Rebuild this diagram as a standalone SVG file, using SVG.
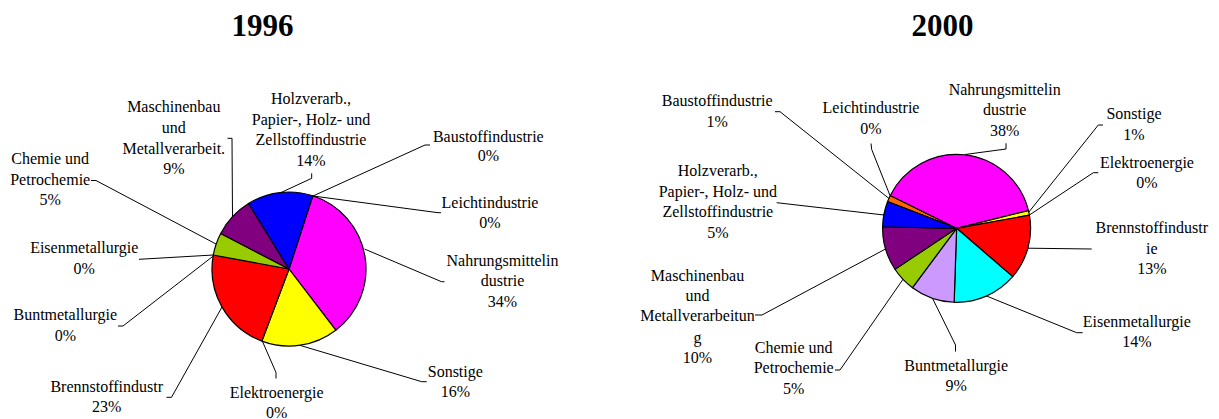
<svg xmlns="http://www.w3.org/2000/svg" width="1219" height="419" viewBox="0 0 1219 419">
<style>
text{font-family:"Liberation Serif","Times New Roman",serif;font-size:16px;fill:#000;text-anchor:middle}
.title{font-size:31px;font-weight:bold}
.s{stroke:#000;stroke-width:1.2;stroke-linejoin:round}
.ld{fill:none;stroke:#000;stroke-width:1}
</style>
<rect width="1219" height="419" fill="#fff"/>
<text class="title" x="262.5" y="36">1996</text>
<text class="title" x="942.5" y="36">2000</text>

<g id="pie1996">
<path class="s" fill="#FF00FF" d="M289,269 L312.79,195.77 A77,77 0 0 1 335.77,330.17 Z"/>
<path class="s" fill="#FFFF00" d="M289,269 L335.77,330.17 A77,77 0 0 1 261.91,341.08 Z"/>
<path class="s" fill="#FF0000" d="M289,269 L261.91,341.08 A77,77 0 0 1 213.29,254.97 Z"/>
<path class="s" fill="#99CC00" d="M289,269 L213.29,254.97 A77,77 0 0 1 220.70,233.45 Z"/>
<path class="s" fill="#800080" d="M289,269 L220.70,233.45 A77,77 0 0 1 248.54,203.49 Z"/>
<path class="s" fill="#0000FF" d="M289,269 L248.54,203.49 A77,77 0 0 1 312.79,195.77 Z"/>
</g>

<g id="pie2000">
<path class="s" fill="#FF6600" d="M956.6,228.3 L887.61,201.54 A74,74 0 0 1 890.26,195.51 Z"/>
<path class="s" fill="#FF00FF" d="M956.6,228.3 L890.26,195.51 A74,74 0 0 1 1028.46,210.65 Z"/>
<path class="s" fill="#FFFF00" d="M956.6,228.3 L1028.46,210.65 A74,74 0 0 1 1029.43,215.19 Z"/>
<path class="s" fill="#FF0000" d="M956.6,228.3 L1029.43,215.19 A74,74 0 0 1 1012.62,276.65 Z"/>
<path class="s" fill="#00FFFF" d="M956.6,228.3 L1012.62,276.65 A74,74 0 0 1 954.15,302.26 Z"/>
<path class="s" fill="#CC99FF" d="M956.6,228.3 L954.15,302.26 A74,74 0 0 1 912.48,287.71 Z"/>
<path class="s" fill="#99CC00" d="M956.6,228.3 L912.48,287.71 A74,74 0 0 1 894.97,269.25 Z"/>
<path class="s" fill="#800080" d="M956.6,228.3 L894.97,269.25 A74,74 0 0 1 882.62,226.75 Z"/>
<path class="s" fill="#0000FF" d="M956.6,228.3 L882.62,226.75 A74,74 0 0 1 887.61,201.54 Z"/>
</g>

<g id="connectors">
<!-- 1996 -->
<polyline class="ld" points="91,180.5 96,180.5 216,244"/>
<polyline class="ld" points="139,259.3 213.3,255"/>
<polyline class="ld" points="118,326 123,326 213.3,256"/>
<polyline class="ld" points="166.5,397.3 171.5,397.3 222,307"/>
<polyline class="ld" points="262.5,341.5 276,372.5 276,378.5"/>
<polyline class="ld" points="227.5,138.3 232,138.3 232.5,216.6"/>
<polyline class="ld" points="311.7,173.3 311.7,178.3 280,193"/>
<polyline class="ld" points="313,196 425,145 430,145"/>
<polyline class="ld" points="313,196 438,212.7 441,212.7"/>
<polyline class="ld" points="364.5,249 441.5,281.7 444.5,281.7"/>
<polyline class="ld" points="300.5,345.5 421.7,381.7 426.7,381.7"/>
<!-- 2000 -->
<polyline class="ld" points="775,111.7 780,111.7 889,198.5"/>
<polyline class="ld" points="871,143.5 871.7,149.5 890,195.5"/>
<polyline class="ld" points="776.7,202.7 884,215"/>
<polyline class="ld" points="755,315 762,315 885.5,249"/>
<polyline class="ld" points="835,370 840,370 903,279.3"/>
<polyline class="ld" points="932.5,298.3 955.5,345 955.5,351.5"/>
<polyline class="ld" points="986.5,296 1076.7,332.7 1082.7,332.7"/>
<polyline class="ld" points="1028,248.2 1091.7,249"/>
<polyline class="ld" points="1029.4,215 1093.3,172.7 1098.3,172.7"/>
<polyline class="ld" points="1028.5,212.5 1098.3,125 1103,125"/>
<polyline class="ld" points="965,154.5 1006,149 1006,143.3"/>
</g>

<g id="labels1996">
<text x="173.8" y="111.7">Maschinenbau</text>
<text x="173.8" y="132.7">und</text>
<text x="173.8" y="153.5">Metallverarbeit.</text>
<text x="173.8" y="174.3">9%</text>
<text x="311" y="104">Holzverarb.,</text>
<text x="311" y="124.7">Papier-, Holz- und</text>
<text x="311" y="145.3">Zellstoffindustrie</text>
<text x="311" y="165.5">14%</text>
<text x="488.3" y="141.7">Baustoffindustrie</text>
<text x="488.3" y="161">0%</text>
<text x="490" y="208.3">Leichtindustrie</text>
<text x="490" y="227.7">0%</text>
<text x="502.5" y="265.7">Nahrungsmittelin</text>
<text x="502.5" y="286">dustrie</text>
<text x="502.5" y="306.5">34%</text>
<text x="455.3" y="376.7">Sonstige</text>
<text x="455.3" y="397.3">16%</text>
<text x="276.7" y="397.5">Elektroenergie</text>
<text x="276.7" y="417.5">0%</text>
<text x="106.7" y="391.7">Brennstoffindustr</text>
<text x="106.7" y="412.3">23%</text>
<text x="65.3" y="320">Buntmetallurgie</text>
<text x="65.3" y="341">0%</text>
<text x="84.2" y="252.7">Eisenmetallurgie</text>
<text x="84.2" y="274">0%</text>
<text x="50.2" y="164">Chemie und</text>
<text x="50.2" y="184.5">Petrochemie</text>
<text x="50.2" y="205">5%</text>
</g>

<g id="labels2000">
<text x="717.2" y="106">Baustoffindustrie</text>
<text x="717.2" y="126.7">1%</text>
<text x="871" y="113.3">Leichtindustrie</text>
<text x="871" y="134.3">0%</text>
<text x="717.8" y="176">Holzverarb.,</text>
<text x="717.8" y="196.7">Papier-, Holz- und</text>
<text x="717.8" y="217.3">Zellstoffindustrie</text>
<text x="717.8" y="238.3">5%</text>
<text x="697.5" y="281.3">Maschinenbau</text>
<text x="697.5" y="301.3">und</text>
<text x="697.5" y="321">Metallverarbeitun</text>
<text x="697.5" y="343.3">g</text>
<text x="697.5" y="363.3">10%</text>
<text x="793.7" y="353.3">Chemie und</text>
<text x="793.7" y="373.3">Petrochemie</text>
<text x="793.7" y="394">5%</text>
<text x="956.2" y="370.7">Buntmetallurgie</text>
<text x="956.2" y="390.7">9%</text>
<text x="1004.7" y="95">Nahrungsmittelin</text>
<text x="1004.7" y="115">dustrie</text>
<text x="1004.7" y="136">38%</text>
<text x="1134" y="119.3">Sonstige</text>
<text x="1134" y="140">1%</text>
<text x="1147" y="168.3">Elektroenergie</text>
<text x="1147" y="188.3">0%</text>
<text x="1151.8" y="233.3">Brennstoffindustr</text>
<text x="1151.8" y="254.3">ie</text>
<text x="1151.8" y="274">13%</text>
<text x="1136.8" y="327.3">Eisenmetallurgie</text>
<text x="1136.8" y="347.3">14%</text>
</g>
</svg>
